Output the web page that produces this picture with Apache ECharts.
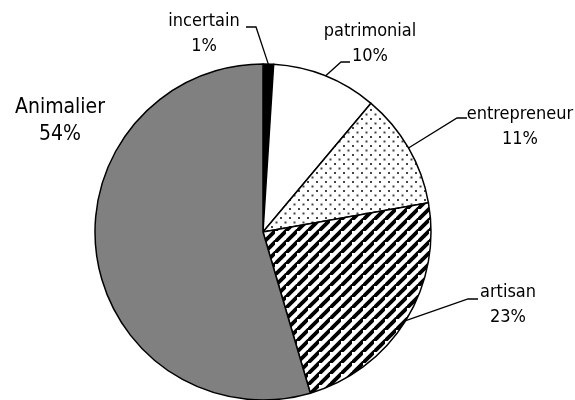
<!DOCTYPE html>
<html>
<head>
<meta charset="utf-8">
<script src="https://cdn.jsdelivr.net/npm/echarts@6/dist/echarts.min.js"></script>
<style>
html,body{margin:0;padding:0;background:#fff;}
#chart{width:575px;height:400px;}
</style>
</head>
<body>
<div id="chart"></div>
<script>
// ---- data ----
const categories = ['incertain', 'patrimonial', 'entrepreneur', 'artisan', 'Animalier'];
const values = [1, 10, 11, 23, 54];

// ---- patterns ----
function stripeTile() {
  const w = 11, h = 11;
  const c = document.createElement('canvas');
  c.width = w; c.height = h;
  const g = c.getContext('2d');
  g.fillStyle = '#fff'; g.fillRect(0, 0, w, h);
  g.strokeStyle = '#000'; g.lineWidth = 3.8;
  for (let k = 0; k <= 2; k++) {   // lines x/w + y/h = k
    g.beginPath();
    g.moveTo(k * w, 0);
    g.lineTo(0, k * h);
    g.stroke();
  }
  return c;
}
function dotTile() {
  const s = 9;
  const c = document.createElement('canvas');
  c.width = s; c.height = s;
  const g = c.getContext('2d');
  g.fillStyle = '#fff'; g.fillRect(0, 0, s, s);
  g.fillStyle = '#444';
  g.fillRect(1, 1, 2, 2);
  g.fillRect(5.5, 5.5, 2, 2);
  return c;
}

const sliceColors = [
  '#000000',
  '#ffffff',
  { image: dotTile(), repeat: 'repeat' },
  { image: stripeTile(), repeat: 'repeat' },
  '#808080'
];

// label layout (positions of the text blocks and leader elbows)
const labelPlaces = [
  { x: 204, y: 34, elbow: [256, 27], end: [246, 27] },
  { x: 370, y: 44, elbow: [341, 62], end: [350, 62] },
  { x: 520, y: 127, elbow: [457, 118], end: [467, 118] },
  { x: 508, y: 305, elbow: [468, 299], end: [478, 299] },
  { x: 60, y: 121, elbow: null, end: null }
];

const FONT = 'DejaVu Sans Condensed';
const chart = echarts.init(document.getElementById('chart'), null, { renderer: 'canvas' });

const data = categories.map((name, i) => {
  const item = {
    name: name,
    value: values[i],
    itemStyle: { color: sliceColors[i] }
  };
  if (name === 'Animalier') {
    item.label = { fontSize: 21, lineHeight: 27 };
    item.labelLine = { show: false };
  }
  return item;
});

chart.setOption({
  animation: false,
  backgroundColor: '#ffffff',
  series: [{
    type: 'pie',
    center: [263, 232],
    radius: 168,
    startAngle: 90,
    clockwise: true,
    avoidLabelOverlap: false,
    itemStyle: { borderColor: '#000', borderWidth: 1.5 },
    label: {
      show: true,
      position: 'outside',
      formatter: p => p.name + '\n' + p.value + '%',
      fontFamily: FONT,
      fontSize: 18,
      lineHeight: 25,
      color: '#000',
      align: 'center'
    },
    labelLine: {
      show: true,
      length: 10,
      length2: 10,
      lineStyle: { color: '#000', width: 1.3 }
    },
    emphasis: { disabled: true },
    labelLayout: function (params) {
      const pl = labelPlaces[params.dataIndex];
      const out = { x: pl.x, y: pl.y, align: 'center', verticalAlign: 'middle' };
      if (pl.elbow && params.labelLinePoints) {
        const start = params.labelLinePoints[0];
        out.labelLinePoints = [start, pl.elbow, pl.end];
      }
      return out;
    },
    data: data
  }]
});
</script>
</body>
</html>
